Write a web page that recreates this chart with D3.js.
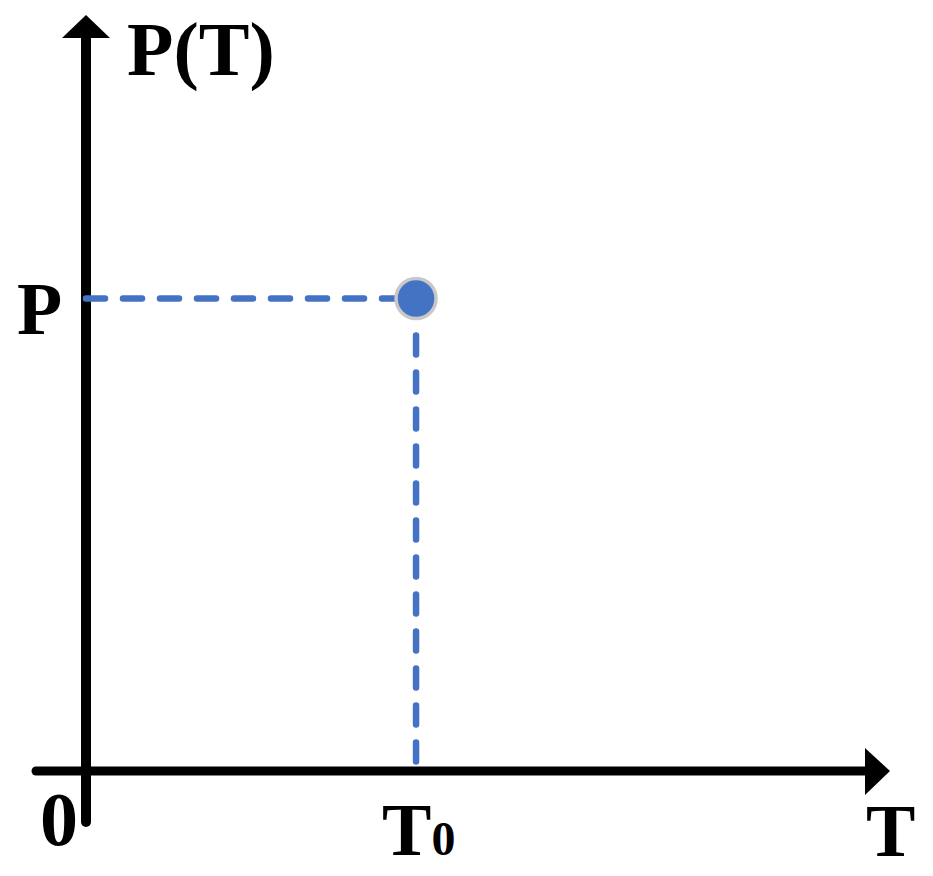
<!DOCTYPE html>
<html>
<head>
<meta charset="utf-8">
<script src="https://cdn.jsdelivr.net/npm/d3@7"></script>
<style>
  body { margin: 0; background: #fff; }
  text { font-family: "Liberation Serif", "Times New Roman", serif; font-weight: bold; fill: #000; }
</style>
</head>
<body>
<svg width="933" height="876"></svg>
<script>
// data
var tValues = [1];      // T0
var pValues = [1];      // P
var tLabels = ["T", "0"];
var xDomain = [0, 2.436];
var yDomain = [0, 1.6];

var svg = d3.select("svg");
var x = d3.scaleLinear().domain(xDomain).range([86, 890]);
var y = d3.scaleLinear().domain(yDomain).range([771, 15]);

var points = tValues.map(function(t, i) { return {t: t, p: pValues[i]}; });

// axes
svg.append("line")
  .attr("x1", x(0)).attr("y1", 822)
  .attr("x2", x(0)).attr("y2", y(yDomain[1]) + 20)
  .style("stroke", "#000").style("stroke-width", 10)
  .style("stroke-linecap", "round");
svg.append("path")
  .attr("d", "M" + (x(0) - 24) + "," + (y(yDomain[1]) + 23) + "L" + x(0) + "," + y(yDomain[1]) +
             "L" + (x(0) + 24) + "," + (y(yDomain[1]) + 23) + "Z")
  .style("fill", "#000");

svg.append("line")
  .attr("x1", 36).attr("y1", y(0))
  .attr("x2", x(xDomain[1]) - 20).attr("y2", y(0))
  .style("stroke", "#000").style("stroke-width", 9)
  .style("stroke-linecap", "round");
svg.append("path")
  .attr("d", "M" + (x(xDomain[1]) - 25) + "," + (y(0) - 23) + "L" + x(xDomain[1]) + "," + y(0) +
             "L" + (x(xDomain[1]) - 25) + "," + (y(0) + 24) + "Z")
  .style("fill", "#000");

// guide lines
var g = svg.append("g");
g.selectAll("line.h").data(points).enter().append("line")
  .attr("class", "h")
  .attr("x1", x(0)).attr("y1", function(d) { return y(d.p); })
  .attr("x2", function(d) { return x(d.t) - 22; }).attr("y2", function(d) { return y(d.p); })
  .style("stroke", "#4472C4").style("stroke-width", 6.5)
  .style("stroke-dasharray", "19,18").style("stroke-linecap", "round");
g.selectAll("line.v").data(points).enter().append("line")
  .attr("class", "v")
  .attr("x1", function(d) { return x(d.t); }).attr("y1", function(d) { return y(d.p) + 37; })
  .attr("x2", function(d) { return x(d.t); }).attr("y2", y(0))
  .style("stroke", "#4472C4").style("stroke-width", 6.5)
  .style("stroke-dasharray", "19,18").style("stroke-linecap", "round");

g.selectAll("circle").data(points).enter().append("circle")
  .attr("cx", function(d) { return x(d.t); })
  .attr("cy", function(d) { return y(d.p); })
  .attr("r", 20)
  .style("fill", "#4472C4").style("stroke", "#C8C8C8").style("stroke-width", 3.5);

// labels
svg.append("text").attr("x", 127).attr("y", 75).style("font-size", "76px").text("P(T)");
svg.append("text").attr("x", 17).attr("y", 334).style("font-size", "74px").text("P");
svg.append("text").attr("x", 40).attr("y", 845).style("font-size", "76px").text("0");
svg.selectAll("text.t0").data(points).enter().append("text")
  .attr("class", "t0")
  .attr("x", function(d) { return x(d.t) - 34; }).attr("y", 855)
  .style("font-size", "74px")
  .text(tLabels[0])
  .append("tspan").style("font-size", "48px").text(tLabels[1]);
svg.append("text").attr("x", 866).attr("y", 856).style("font-size", "74px").text("T");
</script>
</body>
</html>
